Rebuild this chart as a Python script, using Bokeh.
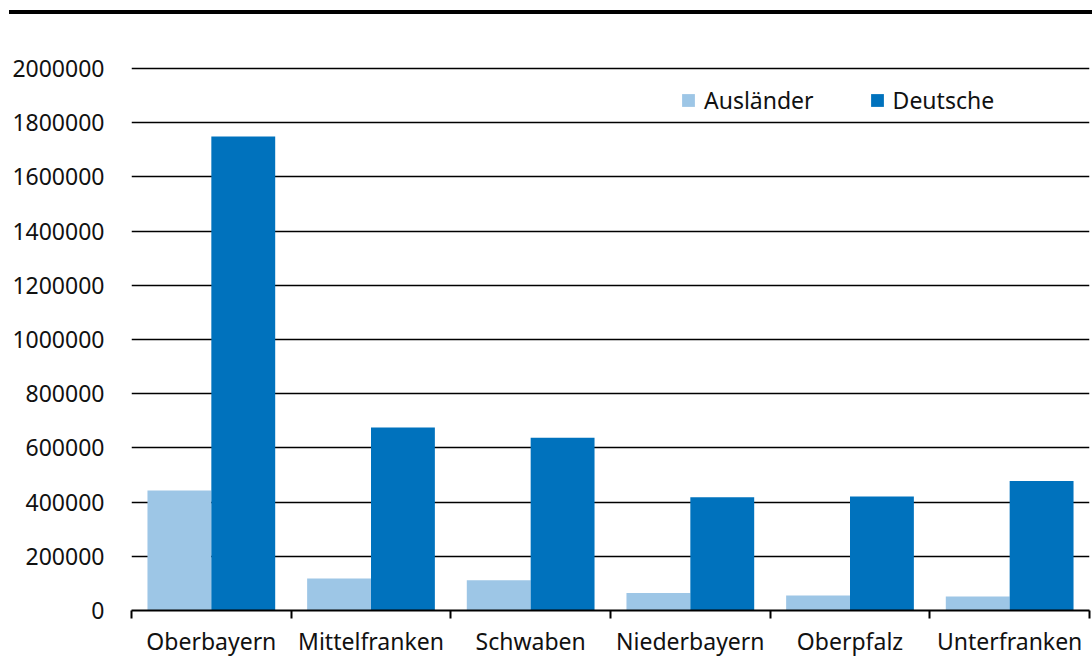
import numpy as np
from bokeh.plotting import figure
from bokeh.models import ColumnDataSource, FixedTicker, NumeralTickFormatter, Range1d, Div, Legend, LegendItem
from bokeh.layouts import column
from bokeh.embed import file_html
from bokeh.resources import INLINE

categories = ["Oberbayern", "Mittelfranken", "Schwaben", "Niederbayern", "Oberpfalz", "Unterfranken"]
auslaender = [443000, 118000, 112000, 65000, 55000, 52000]
deutsche = [1749000, 675000, 638000, 418000, 421000, 478000]
y_ticks = [0, 200000, 400000, 600000, 800000, 1000000, 1200000, 1400000, 1600000, 1800000, 2000000]

FONT = "Noto Sans"
LIGHT = "#9DC6E6"
DARK = "#0072BD"

idx = np.arange(len(categories))
src = ColumnDataSource(dict(
    xa=idx + 0.3, xd=idx + 0.7,
    a=auslaender, d=deutsche, cat=categories,
))

p = figure(width=1092, height=645, output_backend="svg", toolbar_location=None,
           x_range=Range1d(0, len(categories)), y_range=Range1d(0, 2100000),
           min_border_left=131, min_border_right=3, min_border_top=27, min_border_bottom=49)
p.outline_line_color = None

ra = p.vbar(x="xa", top="a", width=0.4, source=src, fill_color=LIGHT, line_color=None)
rd = p.vbar(x="xd", top="d", width=0.4, source=src, fill_color=DARK, line_color=None)

# x axis: labels at centres, ticks at category boundaries
p.xaxis.ticker = FixedTicker(ticks=list(idx + 0.5), minor_ticks=list(range(len(categories) + 1)))
p.xaxis.major_label_overrides = {float(i + 0.5): c for i, c in enumerate(categories)}
p.xaxis.major_tick_out = 0
p.xaxis.major_tick_in = 0
p.xaxis.minor_tick_out = 8
p.xaxis.minor_tick_in = 0
p.xaxis.minor_tick_line_color = "black"
p.xaxis.minor_tick_line_width = 2
p.xaxis.axis_line_color = "black"
p.xaxis.axis_line_width = 2
p.xaxis.major_label_text_font = FONT
p.xaxis.major_label_text_font_size = "23px"
p.xaxis.major_label_text_line_height = 1.0
p.xaxis.major_label_text_color = "#111111"
p.xaxis.major_label_standoff = 6
p.xgrid.grid_line_color = None

p.yaxis.ticker = FixedTicker(ticks=y_ticks)
p.yaxis.formatter = NumeralTickFormatter(format="0")
p.yaxis.axis_line_color = None
p.yaxis.major_tick_line_color = None
p.yaxis.minor_tick_line_color = None
p.yaxis.major_tick_out = 0
p.yaxis.major_tick_in = 0
p.yaxis.major_label_standoff = 27
p.yaxis.major_label_text_font = FONT
p.yaxis.major_label_text_font_size = "23px"
p.yaxis.major_label_text_color = "#111111"
p.ygrid.ticker = FixedTicker(ticks=y_ticks)
p.ygrid.grid_line_color = "black"
p.ygrid.grid_line_width = 1.5

legend = Legend(items=[LegendItem(label="Ausländer", renderers=[ra]),
                       LegendItem(label="Deutsche", renderers=[rd])],
                orientation="horizontal", location=(549, 494),
                glyph_width=16, glyph_height=16, label_standoff=8, spacing=55,
                padding=0, margin=0, border_line_color=None, background_fill_alpha=0,
                label_text_font=FONT, label_text_font_size="23px", label_text_color="#111111")
p.add_layout(legend)

top_line = Div(width=1083, height=4, margin=(10, 0, 0, 9), styles={"background-color": "#000000"})
layout = column(top_line, p, spacing=0)

open("out.html", "w").write(file_html(layout, INLINE))
